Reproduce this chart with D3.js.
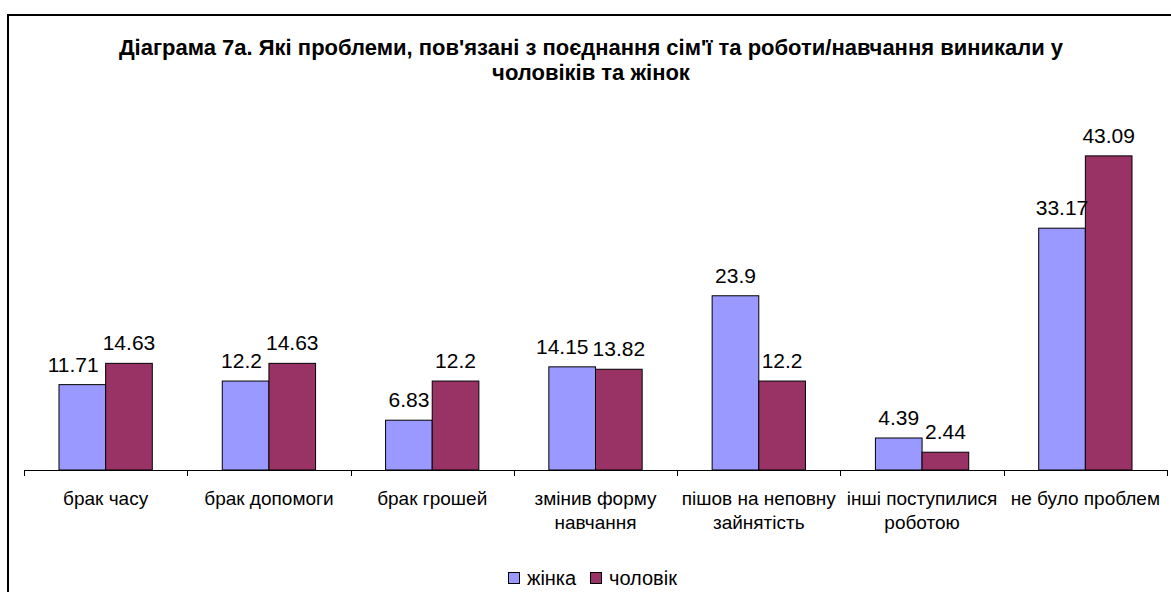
<!DOCTYPE html>
<html>
<head>
<meta charset="utf-8">
<script src="https://cdn.jsdelivr.net/npm/d3@7"></script>
<style>
  body { margin: 0; background: #fff; }
  text { font-family: Arial, "Liberation Sans", sans-serif; }
</style>
</head>
<body>
<div id="chart"></div>
<script>
// Chart data
const categories = [
  "брак часу",
  "брак допомоги",
  "брак грошей",
  "змінив форму навчання",
  "пішов на неповну зайнятість",
  "інші поступилися роботою",
  "не було проблем"
];
// wrapped tick labels, same order as categories
const tickLabels = [
  ["брак часу"],
  ["брак допомоги"],
  ["брак грошей"],
  ["змінив форму", "навчання"],
  ["пішов на неповну", "зайнятість"],
  ["інші поступилися", "роботою"],
  ["не було проблем"]
];
const seriesNames = ["жінка", "чоловік"];
const women = [11.71, 12.2, 6.83, 14.15, 23.9, 4.39, 33.17];
const men = [14.63, 14.63, 12.2, 13.82, 12.2, 2.44, 43.09];
const colors = ["#9999FF", "#993366"];

const w = 1171;
const h = 592;
const base = 470; // baseline of plot

const svg = d3
  .select("#chart")
  .append("svg")
  .attr("width", w)
  .attr("height", h)
  .style("display", "block");

// chart frame (runs off the right and bottom of the picture)
svg
  .append("rect")
  .attr("x", 8)
  .attr("y", 15)
  .attr("width", 1200)
  .attr("height", 620)
  .attr("fill", "#fff")
  .attr("stroke", "#000")
  .attr("stroke-width", 2);

// title
const title = svg
  .append("text")
  .attr("text-anchor", "middle")
  .attr("font-weight", "bold")
  .attr("font-size", 22);
title
  .append("tspan")
  .attr("x", 591)
  .attr("y", 55)
  .text("Діаграма 7а. Які проблеми, пов'язані з поєднання сім'ї та роботи/навчання виникали у");
title
  .append("tspan")
  .attr("x", 591)
  .attr("y", 80)
  .text("чоловіків та жінок");

// scales
const xScale = d3.scaleBand().domain(categories).range([24, 1167]).padding(0);
const xInner = d3
  .scaleBand()
  .domain(seriesNames)
  .range([0, xScale.bandwidth()])
  .paddingInner(0)
  .paddingOuter(0.75);
const yScale = d3.scaleLinear().domain([0, 50]).range([base, base - 364.5]);

const rows = categories.map((c, i) => ({ cat: c, vals: [women[i], men[i]] }));

// bars
const groups = svg
  .selectAll("g.group")
  .data(rows)
  .enter()
  .append("g")
  .attr("class", "group")
  .attr("transform", (d) => `translate(${xScale(d.cat)},0)`);

groups
  .selectAll("rect")
  .data((d) => d.vals.map((v, j) => ({ s: seriesNames[j], v: v, j: j })))
  .enter()
  .append("rect")
  .attr("x", (d) => xInner(d.s))
  .attr("y", (d) => yScale(d.v))
  .attr("width", xInner.bandwidth())
  .attr("height", (d) => base - yScale(d.v))
  .attr("fill", (d) => colors[d.j])
  .attr("stroke", "#000")
  .attr("stroke-width", 1);

// value labels
groups
  .selectAll("text.val")
  .data((d) => d.vals.map((v, j) => ({ s: seriesNames[j], v: v })))
  .enter()
  .append("text")
  .attr("class", "val")
  .attr("x", (d) => xInner(d.s) + xInner.bandwidth() / 2)
  .attr("y", (d) => yScale(d.v) - 13)
  .attr("text-anchor", "middle")
  .attr("font-size", 21)
  .text((d) => d.v);

// nudge the left label away when the two labels of a group collide
groups.each(function () {
  const labels = d3.select(this).selectAll("text.val").nodes();
  const a = labels[0].getBBox();
  const b = labels[1].getBBox();
  const vOverlap = a.y < b.y + b.height && b.y < a.y + a.height;
  const hOverlap = a.x + a.width - b.x;
  if (vOverlap && hOverlap > -2) {
    const x0 = +labels[0].getAttribute("x");
    labels[0].setAttribute("x", x0 - hOverlap - 4);
  }
});

// x axis: line with ticks at category boundaries
const axis = svg.append("g").attr("stroke", "#000").attr("stroke-width", 1);
axis
  .append("line")
  .attr("x1", xScale.range()[0])
  .attr("x2", xScale.range()[1])
  .attr("y1", base + 0.5)
  .attr("y2", base + 0.5);
const bounds = categories.map((c) => xScale(c)).concat([xScale.range()[1]]);
axis
  .selectAll("line.tick")
  .data(bounds)
  .enter()
  .append("line")
  .attr("class", "tick")
  .attr("x1", (d) => Math.round(d) + 0.5)
  .attr("x2", (d) => Math.round(d) + 0.5)
  .attr("y1", base)
  .attr("y2", base + 6);

// category labels
svg
  .selectAll("text.cat")
  .data(categories)
  .enter()
  .append("text")
  .attr("class", "cat")
  .attr("text-anchor", "middle")
  .attr("font-size", 19)
  .each(function (d, i) {
    const t = d3.select(this);
    tickLabels[i].forEach((line, k) => {
      t.append("tspan")
        .attr("x", xScale(d) + xScale.bandwidth() / 2)
        .attr("y", 505 + k * 24)
        .text(line);
    });
  });

// legend
const legend = svg.append("g").attr("transform", "translate(508,572)");
const legX = [0, 82];
seriesNames.forEach((s, j) => {
  legend
    .append("rect")
    .attr("x", legX[j] + 0.5)
    .attr("y", 0.5)
    .attr("width", 11)
    .attr("height", 11)
    .attr("fill", colors[j])
    .attr("stroke", "#000");
  legend
    .append("text")
    .attr("x", legX[j] + 19)
    .attr("y", 13)
    .attr("font-size", 20)
    .text(s);
});
</script>
</body>
</html>
